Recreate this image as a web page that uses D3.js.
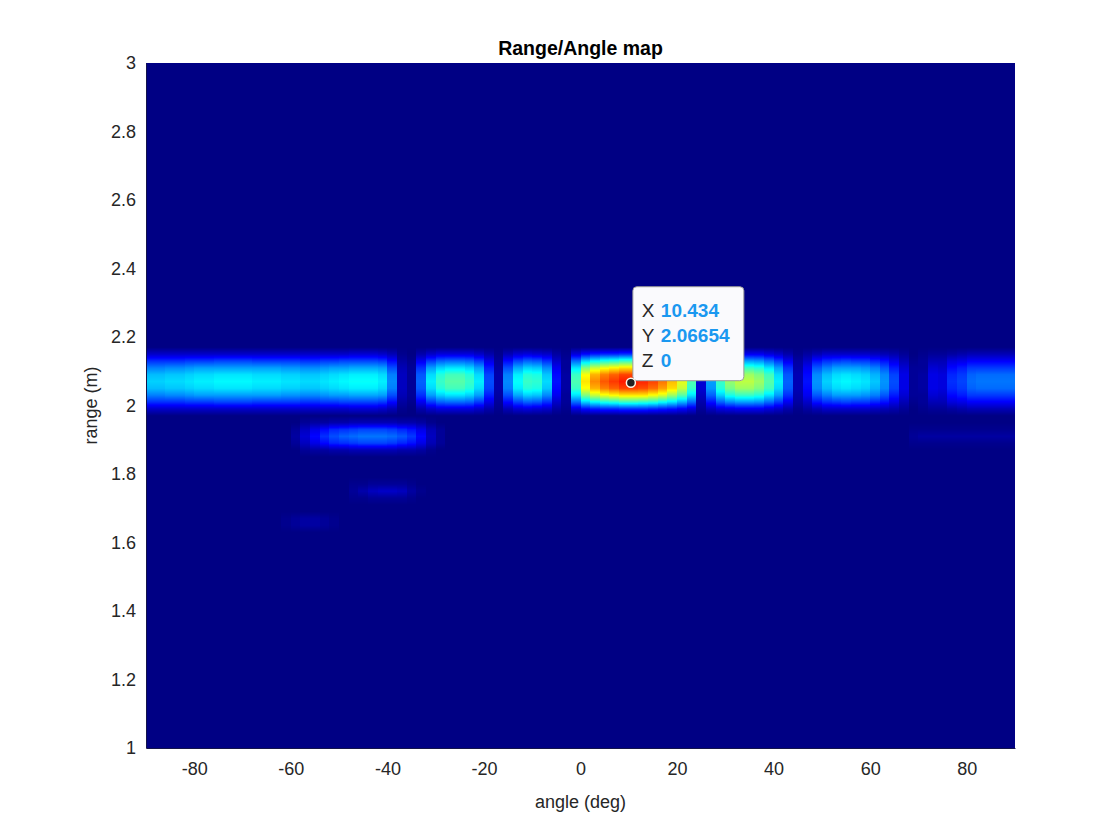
<!DOCTYPE html>
<html>
<head>
<meta charset="utf-8">
<script src="https://cdn.jsdelivr.net/npm/d3@7"></script>
<style>
body { margin: 0; background: #fff; }
svg { display: block; font-family: "Liberation Sans", Arial, Helvetica, sans-serif; }
</style>
</head>
<body>
<svg width="1120" height="840"></svg>
<script>
var margin = {top: 63, right: 105, bottom: 92, left: 146};
var width = 1120 - margin.left - margin.right;
var height = 840 - margin.top - margin.bottom;

// angle bins (deg), 2 deg wide, centres -89 ... 89
var angleBins = d3.range(-89, 90, 2);

// range rows (m) that hold any signal, everything else is 0
var rangeRows = [1.65, 1.67, 1.73, 1.75, 1.77, 1.87, 1.89, 1.91, 1.93, 1.95,
                 1.99, 2.01, 2.03, 2.05, 2.07, 2.09, 2.11, 2.13, 2.15];

// normalised power (0-100) per range row, one value per angle bin
var power = [
  // 1.65
  [0,0,0,0,0,0,0,0,0,0, 0,0,0,0,1,2,3,3,2,1, 0,0,0,0,0,0,0,0,0,0, 0,0,0,0,0,0,0,0,0,0, 0,0,0,0,0,0,0,0,0,0,
   0,0,0,0,0,0,0,0,0,0, 0,0,0,0,0,0,0,0,0,0, 0,0,0,0,0,0,0,0,0,0, 0,0,0,0,0,0,0,0,0,0],
  // 1.67
  [0,0,0,0,0,0,0,0,0,0, 0,0,0,0,1,2,3,3,2,1, 0,0,0,0,0,0,0,0,0,0, 0,0,0,0,0,0,0,0,0,0, 0,0,0,0,0,0,0,0,0,0,
   0,0,0,0,0,0,0,0,0,0, 0,0,0,0,0,0,0,0,0,0, 0,0,0,0,0,0,0,0,0,0, 0,0,0,0,0,0,0,0,0,0],
  // 1.73
  [0,0,0,0,0,0,0,0,0,0, 0,0,0,0,0,0,0,0,0,0, 0,1,1,2,2,2,2,1,0,0, 0,0,0,0,0,0,0,0,0,0, 0,0,0,0,0,0,0,0,0,0,
   0,0,0,0,0,0,0,0,0,0, 0,0,0,0,0,0,0,0,0,0, 0,0,0,0,0,0,0,0,0,0, 0,0,0,0,0,0,0,0,0,0],
  // 1.75
  [0,0,0,0,0,0,0,0,0,0, 0,0,0,0,0,0,0,0,0,0, 0,2,4,6,7,7,6,3,1,0, 0,0,0,0,0,0,0,0,0,0, 0,0,0,0,0,0,0,0,0,0,
   0,0,0,0,0,0,0,0,0,0, 0,0,0,0,0,0,0,0,0,0, 0,0,0,0,0,0,0,0,0,0, 0,0,0,0,0,0,0,0,0,0],
  // 1.77
  [0,0,0,0,0,0,0,0,0,0, 0,0,0,0,0,0,0,0,0,0, 0,1,1,2,2,2,2,1,0,0, 0,0,0,0,0,0,0,0,0,0, 0,0,0,0,0,0,0,0,0,0,
   0,0,0,0,0,0,0,0,0,0, 0,0,0,0,0,0,0,0,0,0, 0,0,0,0,0,0,0,0,0,0, 0,0,0,0,0,0,0,0,0,0],
  // 1.87
  [0,0,0,0,0,0,0,0,0,0, 0,0,0,0,0,0,2,3,3,4, 4,5,5,5,5,5,4,4,3,1, 0,0,0,0,0,0,0,0,0,0, 0,0,0,0,0,0,0,0,0,0,
   0,0,0,0,0,0,0,0,0,0, 0,0,0,0,0,0,0,0,0,0, 0,0,0,0,0,0,0,0,0,0, 0,0,0,0,0,0,0,0,0,0],
  // 1.89
  [0,0,0,0,0,0,0,0,0,0, 0,0,0,0,0,2,6,10,13,16, 17,18,19,19,19,18,16,14,10,5, 2,0,0,0,0,0,0,0,0,0, 0,0,0,0,0,0,0,0,0,0,
   0,0,0,0,0,0,0,0,0,0, 0,0,0,0,0,0,0,0,0,0, 0,0,0,0,0,0,0,0,0,1, 1,1,1,1,1,1,1,1,1,1],
  // 1.91
  [0,0,0,0,0,0,0,0,0,0, 0,0,0,0,0,3,8,13,17,20, 22,23,24,24,24,23,21,18,13,6, 2,0,0,0,0,0,0,0,0,0, 0,0,0,0,0,0,0,0,0,0,
   0,0,0,0,0,0,0,0,0,0, 0,0,0,0,0,0,0,0,0,0, 0,0,0,0,0,0,0,0,0,2, 3,3,3,3,3,3,3,3,3,3],
  // 1.93
  [0,0,0,0,0,0,0,0,0,0, 0,0,0,0,0,2,6,10,13,16, 17,18,19,19,19,18,16,14,10,5, 2,0,0,0,0,0,0,0,0,0, 0,0,0,0,0,0,0,0,0,0,
   0,0,0,0,0,0,0,0,0,0, 0,0,0,0,0,0,0,0,0,0, 0,0,0,0,0,0,0,0,0,1, 1,1,1,1,1,1,1,1,1,1],
  // 1.95
  [0,0,0,0,0,0,0,0,0,0, 0,0,0,0,0,0,2,3,3,4, 4,5,5,5,5,5,4,4,3,1, 0,0,0,0,0,0,0,0,0,0, 0,0,0,0,0,0,0,0,0,0,
   0,0,0,0,0,0,0,0,0,0, 0,0,0,0,0,0,0,0,0,0, 0,0,0,0,0,0,0,0,0,0, 0,0,0,0,0,0,0,0,0,0],
  // 1.99
  [7,7,7,7,7,7,7,7,7,7, 7,7,7,7,7,7,7,7,7,7, 7,8,8,8,7,5,1,0,4,7, 9,9,9,9,7,4,1,5,8,9,
   8,7,3,1,9,13,15,16,16,17, 17,17,16,15,14,12,9,2,6,9, 10,11,11,11,9,7,4,1,3,5,
   7,7,7,7,7,6,5,4,2,0, 1,2,2,3,4,5,5,5,5,5],
  // 2.01
  [17,17,17,17,18,18,18,19,19,19, 19,18,18,18,18,18,17,17,18,18, 19,19,19,19,18,13,3,1,11,18,
   22,23,23,22,18,10,2,13,19,22, 21,17,7,2,23,33,37,40,41,43, 43,42,41,38,35,30,23,4,14,22,
   26,28,28,27,23,18,11,3,7,14, 17,18,19,18,18,16,14,10,5,1, 2,5,5,9,10,12,12,12,12,12],
  // 2.03
  [25,25,26,26,27,28,28,28,28,28, 28,28,28,28,27,27,26,26,27,28, 28,29,29,29,28,20,5,2,17,28,
   33,35,35,33,28,15,3,20,29,33, 32,26,11,2,35,50,57,61,63,65, 65,65,62,59,53,46,35,6,22,33,
   40,43,43,41,35,28,17,4,11,21, 25,28,28,28,27,25,21,15,8,2, 2,8,7,13,15,18,18,18,18,18],
  // 2.05
  [31,31,32,32,33,34,34,35,35,35, 35,34,34,34,33,33,32,32,33,34, 35,36,36,36,34,25,6,2,21,34,
   41,44,44,41,34,19,4,25,36,41, 40,32,13,3,43,62,70,75,78,81, 81,80,77,72,66,57,43,8,27,41,
   49,53,53,50,44,34,21,5,13,26, 31,34,35,34,33,30,26,19,10,2, 3,10,9,16,18,22,23,23,23,23],
  // 2.07
  [33,33,34,34,35,36,36,37,37,37, 37,36,36,36,35,35,34,34,35,36, 37,38,38,38,36,26,6,2,22,36,
   43,46,46,43,36,20,4,26,38,43, 42,34,14,3,45,65,74,79,82,85, 85,84,81,76,69,60,45,8,28,43,
   52,56,56,53,46,36,22,5,14,27, 33,36,37,36,35,32,27,20,10,2, 3,10,9,17,19,23,24,24,24,24],
  // 2.09
  [31,31,32,32,33,34,34,35,35,35, 35,34,34,34,33,33,32,32,33,34, 35,36,36,36,34,25,6,2,21,34,
   41,44,44,41,34,19,4,25,36,41, 40,32,13,3,43,62,70,75,78,81, 81,80,77,72,66,57,43,8,27,41,
   49,53,53,50,44,34,21,5,13,26, 31,34,35,34,33,30,26,19,10,2, 3,10,9,16,18,22,23,23,23,23],
  // 2.11
  [25,25,26,26,27,28,28,28,28,28, 28,28,28,28,27,27,26,26,27,28, 28,29,29,29,28,20,5,2,17,28,
   33,35,35,33,28,15,3,20,29,33, 32,26,11,2,35,50,57,61,63,65, 65,65,62,59,53,46,35,6,22,33,
   40,43,43,41,35,28,17,4,11,21, 25,28,28,28,27,25,21,15,8,2, 2,8,7,13,15,18,18,18,18,18],
  // 2.13
  [17,17,17,17,18,18,18,19,19,19, 19,18,18,18,18,18,17,17,18,18, 19,19,19,19,18,13,3,1,11,18,
   22,23,23,22,18,10,2,13,19,22, 21,17,7,2,23,33,37,40,41,43, 43,42,41,38,35,30,23,4,14,22,
   26,28,28,27,23,18,11,3,7,14, 17,18,19,18,18,16,14,10,5,1, 2,5,5,9,10,12,12,12,12,12],
  // 2.15
  [7,7,7,7,7,7,7,7,7,7, 7,7,7,7,7,7,7,7,7,7, 7,8,8,8,7,5,1,0,4,7, 9,9,9,9,7,4,1,5,8,9,
   8,7,3,1,9,13,15,16,16,17, 17,17,16,15,14,12,9,2,6,9, 10,11,11,11,9,7,4,1,3,5,
   7,7,7,7,7,6,5,4,2,0, 1,2,2,3,4,5,5,5,5,5]
];

var xTicks = [-80, -60, -40, -20, 0, 20, 40, 60, 80];
var yTicks = [1, 1.2, 1.4, 1.6, 1.8, 2, 2.2, 2.4, 2.6, 2.8, 3];

// data tip
var tipPoint = [10.434, 2.06654];
var tipLabels = ["X", "Y", "Z"];
var tipValues = ["10.434", "2.06654", "0"];

//Escalas
var x = d3.scaleLinear().domain([-90, 90]).range([0, width]);
var y = d3.scaleLinear().domain([1, 3]).range([height, 0]);
var jet = d3.scaleLinear()
    .domain([0, 0.125, 0.375, 0.625, 0.875, 1])
    .range(["#000084", "#0000ff", "#00ffff", "#ffff00", "#ff0000", "#800000"])
    .clamp(true);

var mySVG = d3.select('svg')
    .append('g')
    .attr('transform', 'translate(' + margin.left + ',' + margin.top + ')');

// rows sit on a 0.02 m grid starting at 1.01
var rowStep = 0.02, rowBase = 1.01;
var rowMap = new Map();
rangeRows.forEach(function(r, i) { rowMap.set(Math.round((r - rowBase) / rowStep), power[i]); });
function cell(k, j) { var row = rowMap.get(k); return row ? row[j] : 0; }

// heat map image: blocky along angle, smooth along range
var cw = Math.round(width), ch = Math.round(height);
var canvas = document.createElement('canvas');
canvas.width = cw; canvas.height = ch;
var ctx = canvas.getContext('2d');
var img = ctx.createImageData(cw, ch);
var cols = angleBins.map(function(a) { return [Math.round(x(a - 1)), Math.min(cw, Math.round(x(a + 1)))]; });
for (var py = 0; py < ch; py++) {
  var t = (y.invert(py + 0.5) - rowBase) / rowStep;
  var k0 = Math.floor(t), f = t - k0;
  for (var j = 0; j < angleBins.length; j++) {
    var v = (cell(k0, j) * (1 - f) + cell(k0 + 1, j) * f) / 100;
    var c = d3.rgb(jet(v));
    for (var px = cols[j][0]; px < cols[j][1]; px++) {
      var o = (py * cw + px) * 4;
      img.data[o] = c.r; img.data[o + 1] = c.g; img.data[o + 2] = c.b; img.data[o + 3] = 255;
    }
  }
}
ctx.putImageData(img, 0, 0);

mySVG.append('image')
    .attr('href', canvas.toDataURL())
    .attr('x', x(-90)).attr('y', y(3))
    .attr('width', x(90) - x(-90)).attr('height', y(1) - y(3))
    .attr('preserveAspectRatio', 'none');

// eixos
var xAxisGroup = mySVG.append('g')
    .attr('class', 'xAxis')
    .attr('transform', 'translate(0,' + height + ')');
xAxisGroup.call(d3.axisBottom(x).tickValues(xTicks).tickSize(0).tickPadding(14).tickFormat(function(d) { return String(d); }));

var yAxisGroup = mySVG.append('g').attr('class', 'yAxis');
yAxisGroup.call(d3.axisLeft(y).tickValues(yTicks).tickSize(0).tickPadding(10).tickFormat(function(d) { return String(d); }));

mySVG.selectAll('.xAxis, .yAxis')
    .attr('font-size', 18)
    .attr('font-family', null);
mySVG.selectAll('.xAxis text, .yAxis text').attr('fill', '#262626');
mySVG.selectAll('.domain').attr('stroke', '#14144a');

// titulos
mySVG.append('text')
    .attr('x', width / 2).attr('y', -8)
    .attr('text-anchor', 'middle')
    .attr('font-size', 19.5).attr('font-weight', 'bold')
    .attr('fill', '#000')
    .text('Range/Angle map');

mySVG.append('text')
    .attr('x', width / 2).attr('y', height + 60)
    .attr('text-anchor', 'middle')
    .attr('font-size', 18).attr('fill', '#262626')
    .text('angle (deg)');

mySVG.append('text')
    .attr('transform', 'translate(-49,' + (height / 2) + ') rotate(-90)')
    .attr('text-anchor', 'middle')
    .attr('font-size', 18).attr('fill', '#262626')
    .text('range (m)');

// data tip
var mx = x(tipPoint[0]), my = y(tipPoint[1]);
var tip = mySVG.append('g').attr('transform', 'translate(' + (mx + 2) + ',' + (my - 96) + ')');
tip.append('rect')
    .attr('width', 111).attr('height', 94)
    .attr('rx', 4)
    .attr('fill', '#fafafd')
    .attr('stroke', '#9a9a9a').attr('stroke-width', 1);
tipLabels.forEach(function(l, i) {
  var row = tip.append('text').attr('x', 9).attr('y', 30 + i * 25).attr('font-size', 19);
  row.append('tspan').attr('fill', '#262626').text(l);
  row.append('tspan').attr('x', 28).attr('fill', '#1a98f0').attr('font-weight', 'bold').text(tipValues[i]);
});
mySVG.append('circle')
    .attr('cx', mx).attr('cy', my).attr('r', 4.5)
    .attr('fill', '#222').attr('stroke', '#fff8e8').attr('stroke-width', 1.5);
</script>
</body>
</html>
